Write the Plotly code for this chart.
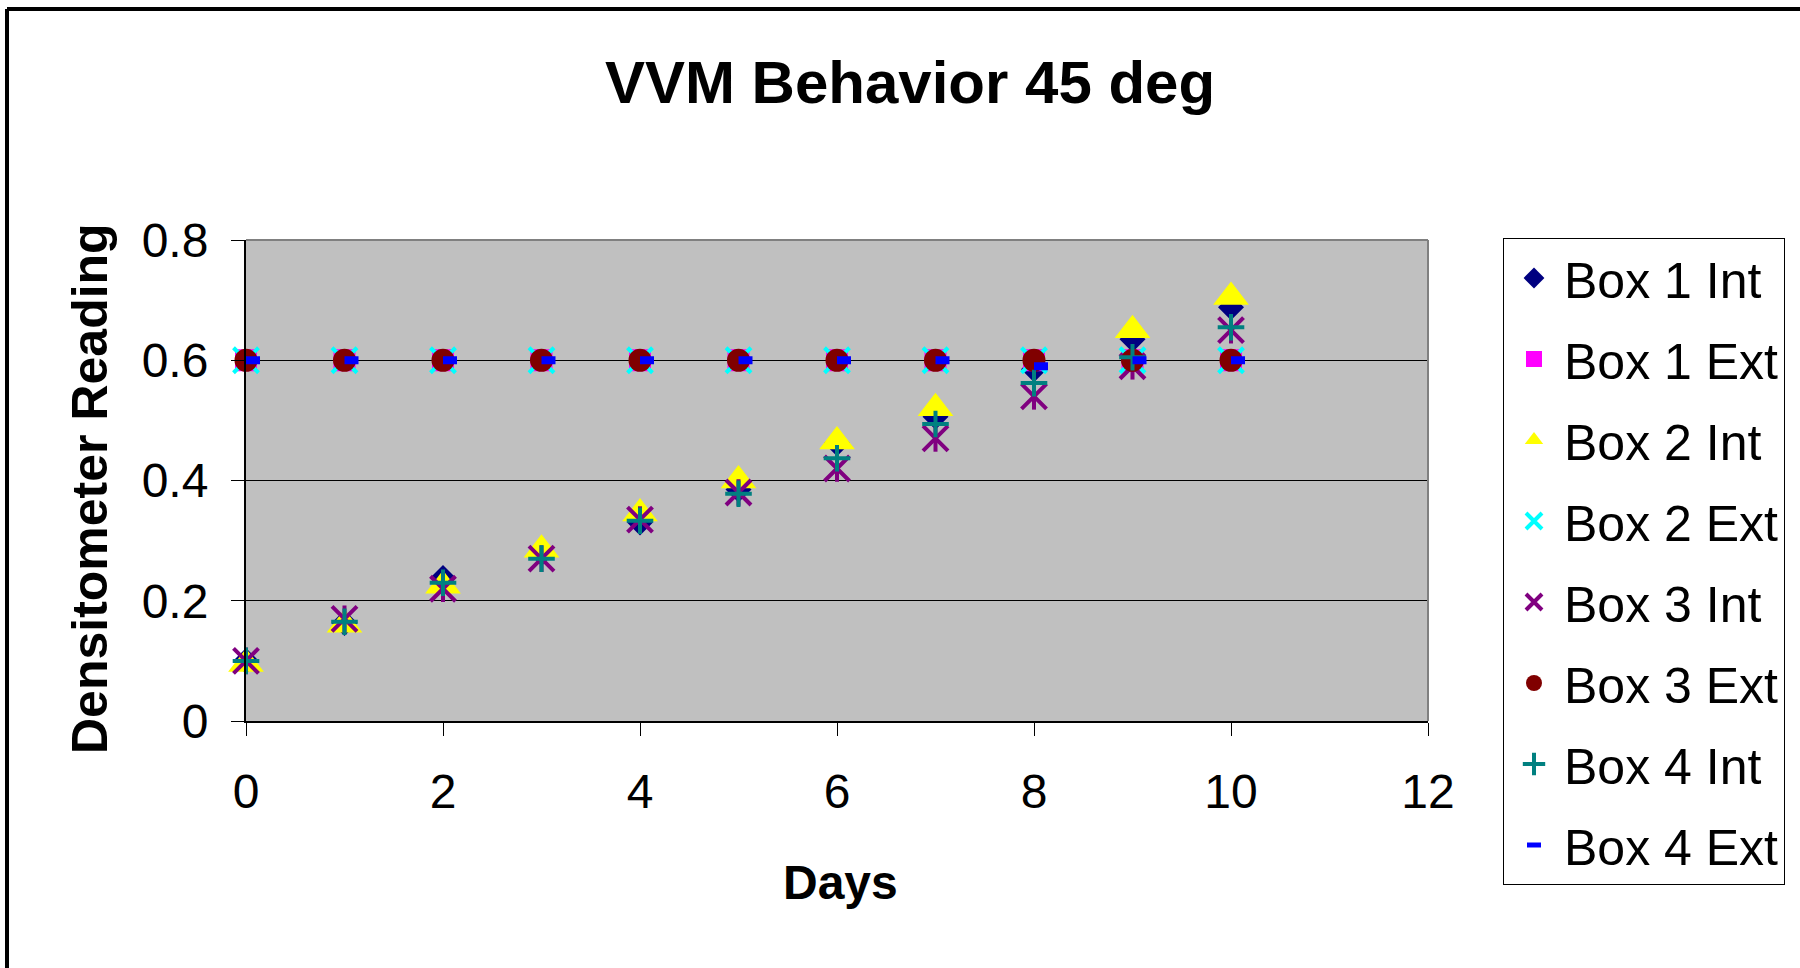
import plotly.graph_objects as go

# ---- data ----
days = [0, 1, 2, 3, 4, 5, 6, 7, 8, 9, 10]
box1_int = [0.10, 0.163, 0.238, 0.28, 0.33, 0.385, 0.462, 0.506, 0.585, 0.635, 0.688]
box1_ext = [0.6, 0.6, 0.6, 0.6, 0.6, 0.6, 0.6, 0.6, 0.6, 0.6, 0.6]
box2_int = [0.095, 0.16, 0.225, 0.285, 0.345, 0.40, 0.465, 0.52, None, 0.65, 0.705]
box2_ext = [0.6, 0.6, 0.6, 0.6, 0.6, 0.6, 0.6, 0.6, 0.6, 0.6, 0.6]
box3_int = [0.10, 0.17, 0.22, 0.27, 0.335, 0.38, 0.42, 0.47, 0.54, 0.59, 0.65]
box3_ext = [0.6, 0.6, 0.6, 0.6, 0.6, 0.6, 0.6, 0.6, 0.6, 0.6, 0.6]
box4_int = [0.10, 0.165, 0.23, 0.27, 0.333, 0.378, 0.437, 0.494, 0.562, 0.605, 0.655]
box4_ext = [0.6, 0.6, 0.6, 0.6, 0.6, 0.6, 0.6, 0.6, 0.59, 0.6, 0.6]

x_ticks = [0, 2, 4, 6, 8, 10, 12]
y_ticks = [0, 0.2, 0.4, 0.6, 0.8]
y_tick_text = ["0", "0.2", "0.4", "0.6", "0.8"]

title_text = "VVM Behavior 45 deg"
x_title = "Days"
y_title = "Densitometer Reading"

FONT = "Liberation Sans, Arial, sans-serif"

# ---- layout geometry (pixels) ----
W, H = 1800, 968
L, R, T, B = 246, 1428, 240, 721
pw, ph = R - L, B - T
X_RANGE = [0, 12]


def px_x(p):
    return (p - L) / pw


def px_y(p):
    return (B - p) / ph


fig = go.Figure()

series = [
    ("Box 1 Int", box1_int, dict(symbol="diamond", size=20, color="#000080")),
    ("Box 1 Ext", box1_ext, dict(symbol="square", size=22, color="#FF00FF")),
    ("Box 2 Int", box2_int, dict(symbol="triangle-up", size=31, color="#FFFF00")),
    ("Box 2 Ext", box2_ext, dict(symbol="x-thin-open", size=25, color="#00FFFF",
                                 line=dict(color="#00FFFF", width=4))),
    ("Box 3 Int", box3_int, dict(symbol="x-thin-open", size=25, color="#800080",
                                 line=dict(color="#800080", width=4))),
    ("Box 3 Ext", box3_ext, dict(symbol="circle", size=23, color="#800000")),
    ("Box 4 Int", box4_int, dict(symbol="cross-thin-open", size=19, color="#008080",
                                 line=dict(color="#008080", width=4))),
    ("Box 4 Ext", box4_ext, dict(symbol="line-ew-open", size=10, color="#0000FF",
                                 line=dict(color="#0000FF", width=8))),
]

for name, vals, mk in series:
    extra = {}
    if name == "Box 4 Ext":
        # Excel draws its dash marker a few pixels right of the point
        extra = dict(xaxis="x2")
    fig.add_trace(go.Scatter(
        x=days, y=vals, mode="markers", name=name, marker=mk,
        legendgroup=name, cliponaxis=False, **extra,
    ))
    if name == "Box 3 Int":
        # vertical stroke that turns the X into Excel's asterisk
        fig.add_trace(go.Scatter(
            x=days, y=vals, mode="markers", name=name, showlegend=False,
            legendgroup=name, cliponaxis=False,
            marker=dict(symbol="line-ns-open", size=19, color="#800080",
                        line=dict(color="#800080", width=4)),
        ))

dash_shift = 7 / pw * (X_RANGE[1] - X_RANGE[0])

fig.update_layout(
    width=W, height=H,
    margin=dict(l=L, r=W - R, t=T, b=H - B, pad=0),
    paper_bgcolor="white",
    plot_bgcolor="#C0C0C0",
    font=dict(family=FONT, size=48, color="black"),
    title=dict(text=title_text, xref="container", yref="container",
               x=910 / W, y=1 - 82 / H, xanchor="center", yanchor="middle",
               font=dict(family=FONT, size=60, weight="bold", color="black")),
    showlegend=True,
    legend=dict(xref="container", yref="container",
                x=1503 / W, y=1 - 238 / H, xanchor="left", yanchor="top",
                bgcolor="white", bordercolor="black", borderwidth=1,
                font=dict(family=FONT, size=50, color="black"),
                tracegroupgap=13, traceorder="grouped", itemwidth=50),
    xaxis=dict(range=X_RANGE, tickvals=x_ticks, ticks="outside", ticklen=13,
               tickcolor="black", tickwidth=1, showgrid=False, zeroline=False,
               showline=True, linecolor="black", linewidth=2,
               tickfont=dict(family=FONT, size=48), ticklabelstandoff=14),
    xaxis2=dict(range=[X_RANGE[0] - dash_shift, X_RANGE[1] - dash_shift],
                overlaying="x", visible=False),
    yaxis=dict(range=[0, 0.8], tickvals=y_ticks, ticktext=y_tick_text,
               ticks="outside", ticklen=13, tickcolor="black", tickwidth=1,
               showgrid=True, gridcolor="black", gridwidth=1, zeroline=False,
               showline=True, linecolor="black", linewidth=2,
               tickfont=dict(family=FONT, size=48), ticklabelstandoff=13),
    annotations=[
        dict(text=x_title, xref="paper", yref="paper", x=px_x(840), y=px_y(882),
             xanchor="center", yanchor="middle", showarrow=False,
             font=dict(family=FONT, size=48, weight="bold")),
        dict(text=y_title, xref="paper", yref="paper", x=px_x(90), y=px_y(489),
             xanchor="center", yanchor="middle", showarrow=False, textangle=-90,
             font=dict(family=FONT, size=50, weight="bold")),
    ],
    shapes=[
        # plot area border (gray)
        dict(type="line", xref="paper", yref="paper", x0=0, x1=1, y0=1, y1=1,
             line=dict(color="#808080", width=2), layer="above"),
        dict(type="line", xref="paper", yref="paper", x0=1, x1=1, y0=0, y1=1,
             line=dict(color="#808080", width=2), layer="above"),
        # outer chart frame (left and top edges visible)
        dict(type="line", xref="paper", yref="paper", x0=px_x(7), x1=px_x(1850),
             y0=px_y(9), y1=px_y(9), line=dict(color="black", width=4)),
        dict(type="line", xref="paper", yref="paper", x0=px_x(7), x1=px_x(7),
             y0=px_y(9), y1=px_y(1000), line=dict(color="black", width=4)),
    ],
)

# let the tall legend show all eight entries without a scrollbar
fig.update_layout(legend_maxheight=700)

# the page is photographed from its top-left corner: drop the default body margin
fig.write_html("out.html",
               config={"displayModeBar": False},
               post_script="document.body.style.margin='0';document.body.style.overflow='hidden';")
